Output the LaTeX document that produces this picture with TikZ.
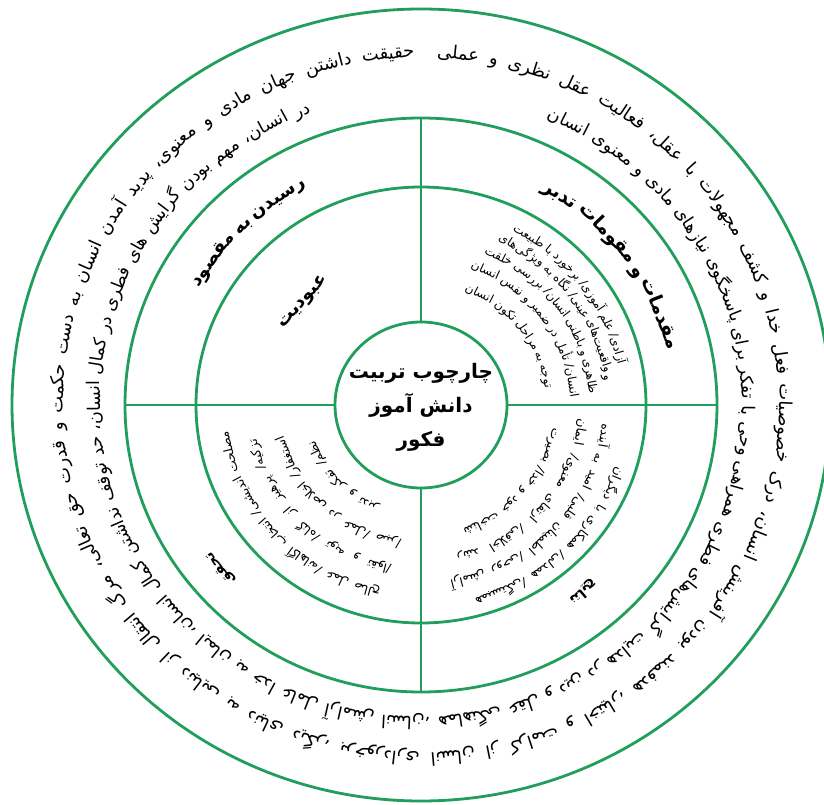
\documentclass[tikz,border=0pt]{standalone}
\usepackage{fontspec}
\usetikzlibrary{shapes.geometric}
\TeXXeTstate=1
\newfontfamily\fa[Script=Arabic]{DejaVu Sans}
\font\OuterF="DejaVu Sans:script=arab" at 18pt
\font\OuterG="DejaVu Sans:script=arab" at 17.5pt
\font\SmallF="DejaVu Sans:script=arab" at 12pt
\font\LowF="DejaVu Sans:script=arab" at 12.5pt
\font\BandF="DejaVu Sans/B:script=arab" at 19pt
\font\BandG="DejaVu Sans/B:script=arab" at 18pt
\definecolor{ringgreen}{RGB}{34,158,92}
\newdimen\ArcW
\newdimen\ArcTot
\newcount\ArcN
\newcount\ArcId
\newbox\ArcBox
% place words along an arc: #1 radius, #2 start angle, #3 gap (pt), #4 font, #5 words
\newcommand\ArcPlace[5]{%
  \xdef\ArcAng{#2}%
  \xdef\ArcGp{#3}%
  \foreach \ww in {#5}{%
    \global\setbox\ArcBox=\hbox{#4\beginR\ww\endR}%
    \global\ArcW=\wd\ArcBox
    \pgfmathsetmacro\ArcMid{\ArcAng+\the\ArcW/(#1)*28.64789}%
    \pgfmathsetmacro\ArcNext{\ArcAng+(\the\ArcW+\ArcGp)/(#1)*57.29578}%
    \global\advance\ArcId by 1
    \node[arcword, font=#4, rotate=\ArcMid-90] (aw\the\ArcId) at (\ArcMid:#1 and {0.97*#1}) {\beginR\ww\endR};%
    \xdef\ArcAng{\ArcNext}%
  }%
}
% fit words between two angles: #1 radius, #2 start, #3 end, #4 font, #5 words
\newcommand\ArcFit[5]{%
  \global\ArcTot=0pt \global\ArcN=0
  \foreach \ww in {#5}{%
    \global\setbox\ArcBox=\hbox{#4\beginR\ww\endR}%
    \global\advance\ArcTot by \wd\ArcBox
    \global\advance\ArcN by 1
  }%
  \pgfmathsetmacro\ArcGap{(((#3)-(#2))/57.29578*(#1)-\the\ArcTot)/max(\the\ArcN-1,1)}%
  \ArcPlace{#1}{#2}{\ArcGap}{#4}{#5}%
}
\tikzset{
  ringline/.style={draw=ringgreen, line width=2.8pt},
  arcword/.style={anchor=base, inner sep=0pt, text=black},
}
\begin{document}
\begin{tikzpicture}[x=1pt,y=1pt]
\useasboundingbox (0,0) rectangle (824,804);
\fill[white] (0,0) rectangle (824,804);
\begin{scope}[shift={(421,399)}]
  \draw[ringline] (0,0) ellipse [x radius=409, y radius=396];
  \draw[ringline] (0,0) ellipse [x radius=296, y radius=287];
  \draw[ringline] (0,0) ellipse [x radius=225, y radius=218];
  \node[draw=ringgreen, line width=2.8pt, ellipse, minimum width=172pt, minimum height=166pt, inner sep=0pt] (core) at (0,0) {};
  \coordinate (ringL) at (-296,0);
  \coordinate (ringR) at (296,0);
  \coordinate (ringT) at (0,287);
  \coordinate (ringB) at (0,-287);
  \draw[ringline] (ringL) -- (core.west);
  \draw[ringline] (core.east) -- (ringR);
  \draw[ringline] (core.north) -- (ringT);
  \draw[ringline] (core.south) -- (ringB);
  \node[font=\fa\bfseries\fontsize{20}{34}\selectfont, align=center, inner sep=0pt] (title) at (0,-2)
    {\beginR چارچوب تربیت\endR\\\beginR دانش آموز\endR\\\beginR فکور\endR};
  % outer paragraph, line 1 (outer track)
  \ArcFit{358}{91}{447.5}{\OuterF}{حقیقت,داشتن,جهان,مادی,و,معنوی،,پدید,آمدن,انسان,به,دست,حکمت,و,قدرت,حق,تعالی،,مرگ,انتقال,از,دنیایی,به,دنیای,دیگر،,برخورداری,انسان,از,کرامت,و,اختیار،,هدفمند,بودن,آفرینش,انسان،,درک,خصوصیات,فعل,خدا,و,کشف,مجهولات,با,عقل،,فعالیت,عقل,نظری,و,عملی}
  % outer paragraph, line 2 (inner track)
  \ArcFit{321}{110}{427}{\OuterG}{در,انسان،,مهم,بودن,گرایش,های,فطری,در,کمال,انسان،,حد,توقف,نداشتن,کمال,انسان،,ایمان,به,خدا,عامل,آرامش,انسان،,هماهنگی,عقل,و,دین,در,هدایت,گرایش‌های,فطری,همراهی,وحی,با,تفکر,برای,پاسخگوی,نیازهای,مادی,و,معنوی,انسان}
  % band titles
  \ArcPlace{252}{13}{5}{\BandF}{مقدمات,و,مقومات,تدبر}
  \ArcPlace{252}{117}{5}{\BandG}{رسیدن,به,مقصود}
  \node[font=\BandG, rotate=48, inner sep=0pt] (ubud) at (138:158 and 153) {\beginR عبودیت\endR};
  \node[font=\fa\bfseries\fontsize{14}{14}\selectfont, rotate=130, inner sep=0pt] (tahaq) at (220:262 and 254) {\beginR تحقق\endR};
  \node[font=\fa\bfseries\fontsize{14}{14}\selectfont, rotate=220, inner sep=0pt] (nataij) at (310:252 and 244) {\beginR نتایج\endR};
  % top-right inner lines
  \ArcPlace{201}{12}{3.5}{\SmallF}{آزادی/,علم,آموزی/,برخورد,با,طبیعت}
  \ArcPlace{185}{7.5}{3.5}{\SmallF}{و,واقعیت‌های,عینی/,نگاه,به,ویژگی‌های}
  \ArcPlace{168}{4}{3.5}{\SmallF}{ظاهری,و,باطنی,انسان/,بررسی,خلقت}
  \ArcPlace{149}{3}{3.5}{\SmallF}{انسان/,تأمل,در,ضمیر,و,نفس,انسان}
  \ArcPlace{125}{8}{3.5}{\SmallF}{توجه,به,مراحل,تکون,انسان}
  % bottom-left inner lines
  \ArcFit{194}{188}{258}{\LowF}{مصلحت,اندیشی/,انتخاب,آگاهانه/,عمل,صالح}
  \ArcFit{168}{192}{260}{\LowF}{تزکیه/,پرهیز,از,گناه/,توبه,و,تقوا/}
  \ArcFit{140}{193}{262}{\LowF}{استغفار/,اخلاص,در,عمل/,صبر/}
  \ArcFit{112}{199}{248}{\LowF}{نظم/,تفکر,و,تدبر}
  % bottom-right inner lines
  \ArcFit{205}{285}{342}{\LowF}{همبستگی/,همدلی/,همکاری,با,دیگران}
  \ArcFit{182}{279}{354}{\LowF}{آرامش,روحی/,اطمینان,قلبی/,امید,به,آینده}
  \ArcFit{158}{283}{355}{\LowF}{رشد,اخلاقی/,ارتقای,معنوی/,ایمان}
  \ArcFit{133}{288}{350}{\LowF}{شناخت,خود,و,خدا/,بصیرت}
\end{scope}
\end{tikzpicture}
\end{document}
